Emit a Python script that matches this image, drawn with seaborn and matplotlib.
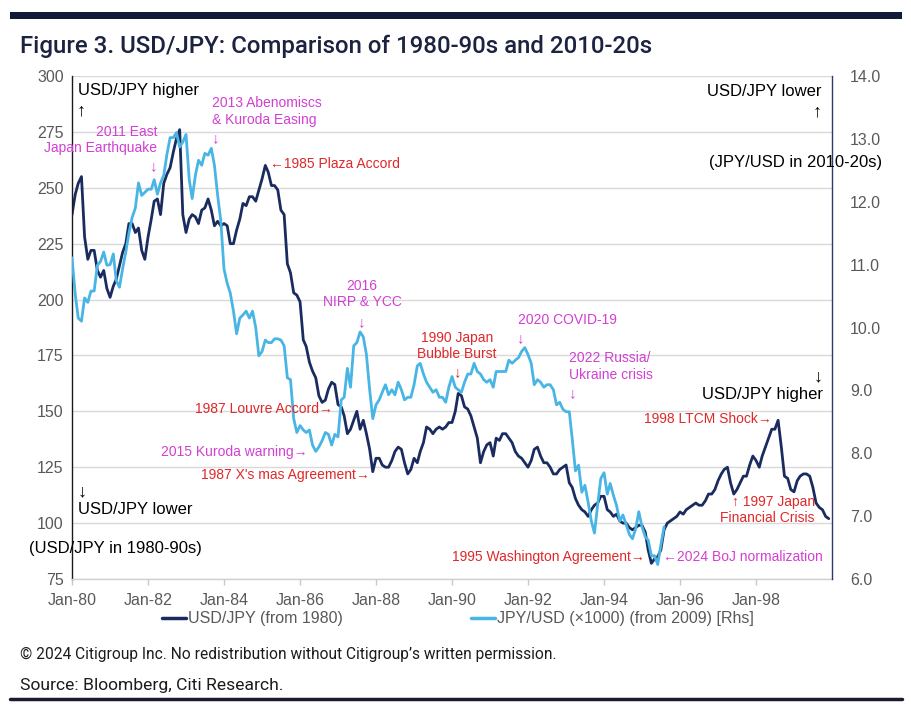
import numpy as np
import pandas as pd
import matplotlib
matplotlib.use("Agg")
import matplotlib.pyplot as plt
from matplotlib.lines import Line2D
from matplotlib.patches import Rectangle
import seaborn as sns

# ---------------- data ----------------
# USD/JPY monthly, Jan 1980 - Dec 1999
usdjpy_1980 = [
    238, 247, 252, 255, 228, 218, 222, 222, 213, 210, 213, 205,   # 1980
    201, 206, 209, 215, 221, 225, 234, 234, 230, 232, 222, 218,   # 1981
    228, 236, 244, 245, 238, 252, 256, 259, 266, 272, 276, 238,   # 1982
    230, 236, 238, 237, 234, 240, 241, 245, 240, 233, 235, 233,   # 1983
    234, 233, 225, 225, 231, 236, 243, 242, 246, 246, 244, 249,   # 1984
    254, 260, 257, 251, 251, 249, 240, 238, 216, 212, 203, 202,   # 1985
    199, 182, 179, 172, 168, 165, 157, 154, 155, 160, 163, 162,   # 1986
    153, 152, 148, 140, 142, 146, 150, 142, 146, 140, 133, 123,   # 1987
    129, 129, 126, 125, 125, 128, 132, 134, 133, 127, 122, 124,   # 1988
    129, 127, 132, 136, 143, 142, 140, 142, 143, 142, 143, 145,   # 1989
    145, 150, 158, 157, 152, 151, 148, 143, 138, 127, 132, 135,   # 1990
    136, 130, 138, 137, 140, 140, 138, 136, 132, 130, 129, 127,   # 1991
    125, 128, 133, 134, 130, 127, 127, 125, 122, 122, 124, 125,   # 1992
    126, 118, 116, 111, 108, 106, 105, 103, 106, 108, 109, 112,   # 1993
    112, 106, 105, 103, 104, 101, 100, 100, 98, 97, 98, 99,       # 1994
    99, 96, 88, 82, 84, 85, 88, 97, 100, 101, 102, 103,           # 1995
    105, 104, 106, 107, 108, 109, 108, 108, 110, 113, 113, 115,   # 1996
    119, 122, 124, 125, 118, 113, 115, 118, 121, 121, 126, 130,   # 1997
    128, 125, 130, 134, 138, 142, 142, 146, 134, 121, 120, 115,   # 1998
    114, 119, 121, 122, 122, 121, 116, 109, 107, 106, 103, 102,   # 1999
]

# JPY/USD (x1000) monthly, Jan 2009 - Aug 2024
jpyusd_2009 = [
    11.11, 10.53, 10.15, 10.10, 10.47, 10.40, 10.58, 10.58, 10.99, 11.05, 11.20, 10.99,  # 2009
    11.00, 11.17, 10.75, 10.64, 10.93, 11.20, 11.50, 11.75, 11.90, 12.30, 12.10, 12.15,  # 2010
    12.20, 12.20, 12.35, 12.12, 12.30, 12.42, 12.75, 13.02, 13.02, 13.10, 12.87, 12.95,  # 2011
    13.07, 12.35, 12.05, 12.42, 12.66, 12.58, 12.77, 12.74, 12.85, 12.58, 12.10, 11.70,  # 2012
    10.93, 10.70, 10.55, 10.26, 9.90, 10.15, 10.20, 10.26, 10.15, 10.26, 10.00, 9.55,    # 2013
    9.62, 9.80, 9.76, 9.76, 9.82, 9.82, 9.80, 9.71, 9.20, 9.17, 8.55, 8.33,              # 2014
    8.44, 8.37, 8.33, 8.37, 8.13, 8.03, 8.10, 8.20, 8.33, 8.30, 8.13, 8.30,              # 2015
    8.26, 8.85, 8.89, 9.35, 9.05, 9.71, 9.76, 9.93, 9.85, 9.57, 9.01, 8.55,              # 2016
    8.77, 8.85, 8.97, 9.09, 8.93, 9.01, 8.93, 9.13, 9.01, 8.85, 8.89, 8.89,              # 2017
    9.09, 9.39, 9.43, 9.26, 9.13, 9.05, 8.97, 9.01, 8.89, 8.89, 8.81, 9.05,              # 2018
    9.22, 9.05, 9.01, 8.97, 9.13, 9.26, 9.26, 9.43, 9.30, 9.26, 9.17, 9.13,              # 2019
    9.17, 9.05, 9.30, 9.30, 9.30, 9.30, 9.48, 9.43, 9.48, 9.52, 9.62, 9.68,              # 2020
    9.57, 9.43, 9.09, 9.17, 9.13, 9.05, 9.09, 9.09, 9.01, 8.77, 8.81, 8.70,              # 2021
    8.66, 8.66, 8.23, 7.72, 7.81, 7.38, 7.49, 7.22, 6.92, 6.73, 7.19, 7.60,              # 2022
    7.69, 7.35, 7.52, 7.33, 7.17, 6.92, 7.02, 6.87, 6.71, 6.64, 6.80, 7.07,              # 2023
    6.83, 6.67, 6.62, 6.37, 6.37, 6.23, 6.54, 6.83,                                      # 2024
]

x_tick_years = [1980, 1982, 1984, 1986, 1988, 1990, 1992, 1994, 1996, 1998]
x_tick_labels = ["Jan-80", "Jan-82", "Jan-84", "Jan-86", "Jan-88",
                 "Jan-90", "Jan-92", "Jan-94", "Jan-96", "Jan-98"]
left_ticks = [75, 100, 125, 150, 175, 200, 225, 250, 275, 300]
right_ticks = [6.0, 7.0, 8.0, 9.0, 10.0, 11.0, 12.0, 13.0, 14.0]
label_dark = "USD/JPY (from 1980)"
label_light = "JPY/USD (\u00d71000) (from 2009) [Rhs]"
title = "Figure 3. USD/JPY: Comparison of 1980-90s and 2010-20s"

# ---------------- frames ----------------
dark_df = pd.DataFrame({
    "date": pd.date_range("1980-01-01", periods=len(usdjpy_1980), freq="MS"),
    "value": usdjpy_1980,
})
light_dates = pd.date_range("2009-01-01", periods=len(jpyusd_2009), freq="MS") - pd.DateOffset(years=29)
light_df = pd.DataFrame({"date": light_dates, "value": jpyusd_2009})

# ---------------- style ----------------
sns.set_theme(style="white")
plt.rcParams["font.family"] = ["Liberation Sans", "DejaVu Sans"]

W, H = 912, 709
fig = plt.figure(figsize=(W / 100, H / 100), dpi=100)

def fx(x):
    return x / W

def fy(y):
    return 1 - y / H

L, R, T, B = 72, 832, 76, 579
ax = fig.add_axes([fx(L), fy(B), (R - L) / W, (B - T) / H])
ax2 = ax.twinx()

dark_col = "#1a2b5f"
light_col = "#48b5e5"
gray_txt = "#595959"
red = "#e0282a"
mag = "#d23fd2"

sns.lineplot(data=dark_df, x="date", y="value", ax=ax, color=dark_col, linewidth=2.0, legend=False)
sns.lineplot(data=light_df, x="date", y="value", ax=ax2, color=light_col, linewidth=2.0, legend=False)

ax.set_xlim(pd.Timestamp("1980-01-01"), pd.Timestamp("2000-01-01"))
ax.set_ylim(75, 300)
ax2.set_ylim(6, 14)
ax.set_yticks(left_ticks)
ax2.set_yticks(right_ticks)
ax2.set_yticklabels([f"{v:.1f}" for v in right_ticks])
ax.set_xticks([pd.Timestamp(f"{y}-01-01") for y in x_tick_years])
ax.set_xticklabels(x_tick_labels)
ax.set_xlabel("")
ax.set_ylabel("")
ax2.set_ylabel("")

ax.grid(axis="y", color="#d9d9d9", linewidth=1.0)
ax.set_axisbelow(True)

for a in (ax, ax2):
    for s in a.spines.values():
        s.set_visible(False)
ax.spines["left"].set_visible(True)
ax.spines["left"].set_color("#1a1a1a")
ax.spines["left"].set_linewidth(1.0)
ax2.spines["right"].set_visible(True)
ax2.spines["right"].set_color("#2a3a6a")
ax2.spines["right"].set_linewidth(1.0)
ax.spines["bottom"].set_visible(True)
ax.spines["bottom"].set_color("#d0d0d0")
ax.spines["bottom"].set_linewidth(1.0)

ax.tick_params(axis="x", which="major", direction="out", length=4, width=1, color="#c8c8c8",
               labelsize=11.5, labelcolor=gray_txt, pad=6, bottom=True)
ax.tick_params(axis="y", length=0, labelsize=11.5, labelcolor=gray_txt, pad=6)
ax2.tick_params(axis="y", length=0, labelsize=11.5, labelcolor=gray_txt, pad=13)

# ---------------- legend ----------------
handles = [Line2D([0], [0], color=dark_col, lw=2.5), Line2D([0], [0], color=light_col, lw=2.5)]
fig.legend(handles, [label_dark, label_light], loc="center", ncol=2,
           bbox_to_anchor=(fx(458), fy(619)), frameon=False,
           prop={"family": ["Liberation Sans", "DejaVu Sans"], "size": 11.5},
           labelcolor=gray_txt, handlelength=1.5, handletextpad=0.15, columnspacing=8.0)

# ---------------- annotations ----------------
def t(x, y, s, color, size=10, ha="left", va="center", **kw):
    fig.text(fx(x), fy(y), s, color=color, fontsize=size, ha=ha, va=va,
             family=["Liberation Sans", "DejaVu Sans"], **kw)

# black direction labels
t(78, 90, "USD/JPY higher", "black", 12)
t(81, 111, "\u2191", "black", 13, ha="center")
t(822, 91, "USD/JPY lower", "black", 12, ha="right")
t(817, 112, "\u2191", "black", 13, ha="center")
t(882, 163, "(JPY/USD in 2010-20s)", "black", 12, ha="right")
t(818, 377, "\u2193", "black", 13, ha="center")
t(823, 395, "USD/JPY higher", "black", 12, ha="right")
t(82, 492, "\u2193", "black", 13, ha="center")
t(78, 509, "USD/JPY lower", "black", 12)
t(29, 549, "(USD/JPY in 1980-90s)", "black", 12)

# magenta (2010-20s events)
t(157, 132, "2011 East", mag, ha="right")
t(157, 148, "Japan Earthquake", mag, ha="right")
t(154, 166, "\u2193", mag, size=11, ha="center")
t(212, 103, "2013 Abenomiscs", mag)
t(212, 120, "& Kuroda Easing", mag)
t(216, 138, "\u2193", mag, size=11, ha="center")
t(362, 286, "2016", mag, ha="center")
t(362, 302, "NIRP & YCC", mag, ha="center")
t(362, 322, "\u2193", mag, size=11, ha="center")
t(518, 320, "2020 COVID-19", mag)
t(521, 338, "\u2193", mag, size=11, ha="center")
t(569, 358, "2022 Russia/", mag)
t(569, 375, "Ukraine crisis", mag)
t(573, 393, "\u2193", mag, size=11, ha="center")
t(308, 452, "2015 Kuroda warning\u2192", mag, ha="right")
t(663, 557, "\u21902024 BoJ normalization", mag)

# red (1980-90s events)
t(270, 164, "\u21901985 Plaza Accord", red)
t(457, 338, "1990 Japan", red, ha="center")
t(457, 354, "Bubble Burst", red, ha="center")
t(458, 372, "\u2193", red, size=11, ha="center")
t(772, 419, "1998 LTCM Shock\u2192", red, ha="right")
t(333, 409, "1987 Louvre Accord\u2192", red, ha="right")
t(370, 475, "1987 X's mas Agreement\u2192", red, ha="right")
t(815, 502, "\u2191 1997 Japan", red, ha="right")
t(815, 518, "Financial Crisis", red, ha="right")
t(645, 557, "1995 Washington Agreement\u2192", red, ha="right")

# ---------------- title / frame decorations ----------------
fig.add_artist(Rectangle((fx(10), fy(19)), fx(902) - fx(10), fy(12) - fy(19),
                         transform=fig.transFigure, color="#111a36", lw=0))
fig.add_artist(Line2D([fx(10), fx(902)], [fy(699), fy(699)], transform=fig.transFigure,
                      color="#1b1b2b", lw=2.5))

title_txt = fig.text(fx(20), fy(53), title, color="#1c2340", fontsize=18, ha="left", va="baseline",
                     family=["Roboto", "DejaVu Sans"], fontweight="medium")
foot1 = fig.text(fx(20), fy(659), "\u00a9 2024 Citigroup Inc. No redistribution without Citigroup\u2019s written permission.",
                 color="#1c1c1c", fontsize=12, ha="left", va="baseline", family=["Roboto", "DejaVu Sans"])
foot2 = fig.text(fx(20), fy(690), "Source: Bloomberg, Citi Research.",
                 color="#1c1c1c", fontsize=13, ha="left", va="baseline", family=["Roboto", "DejaVu Sans"])

# fit text widths to the reference layout
fig.canvas.draw()
renderer = fig.canvas.get_renderer()
for txt, target in ((title_txt, 632), (foot1, 533), (foot2, 262)):
    w = txt.get_window_extent(renderer).width
    txt.set_fontsize(txt.get_fontsize() * target / w)

fig.savefig("out.png", dpi=100)
